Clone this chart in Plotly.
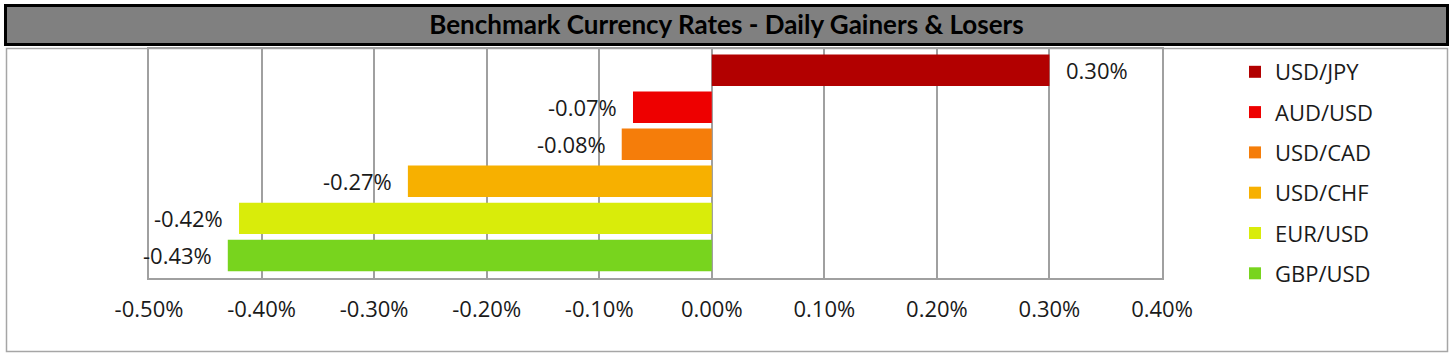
import plotly.graph_objects as go

# ---- data ----
pairs = ["USD/JPY", "AUD/USD", "USD/CAD", "USD/CHF", "EUR/USD", "GBP/USD"]
changes_pct = [0.30, -0.07, -0.08, -0.27, -0.42, -0.43]
bar_colors = ["#B20000", "#EE0000", "#F57D0A", "#F7B000", "#D9EC0A", "#78D41E"]
tick_vals_pct = [-0.50, -0.40, -0.30, -0.20, -0.10, 0.00, 0.10, 0.20, 0.30, 0.40]
tick_labels = ["-0.50%", "-0.40%", "-0.30%", "-0.20%", "-0.10%", "0.00%", "0.10%", "0.20%", "0.30%", "0.40%"]
title_text = "Benchmark Currency Rates - Daily Gainers & Losers"

W, H = 1453, 355
L, R, T, B = 149, 1162, 49, 278  # plot area in pixels

def px(x):
    return (x - L) / (R - L)

def py(y):
    return (B - y) / (B - T)

LABEL_FONT = dict(family="Open Sans", size=22, color="#1a1a1a")

fig = go.Figure()
for name, val, col in zip(pairs, changes_pct, bar_colors):
    fig.add_trace(go.Bar(
        x=[val], y=[name], orientation="h", name=name,
        marker=dict(color=col, line=dict(width=0)),
        width=0.85, legendgroup=name, hoverinfo="x+y",
    ))

annotations = []
for name, val in zip(pairs, changes_pct):
    annotations.append(dict(
        x=val, y=name, xref="x", yref="y", text=f"{val:.2f}%",
        showarrow=False, font=LABEL_FONT,
        xanchor="left" if val >= 0 else "right",
        xshift=15 if val >= 0 else -14,
    ))

shapes = [
    # chart frame
    dict(type="rect", xref="paper", yref="paper", x0=px(6.5), x1=px(1447.5), y0=py(351.5), y1=py(48.5),
         line=dict(color="#A6A6A6", width=1.5), fillcolor="rgba(0,0,0,0)", layer="below"),
    # title bar
    dict(type="rect", xref="paper", yref="paper", x0=px(5.5), x1=px(1447.5), y0=py(44.5), y1=py(5.5),
         line=dict(color="#000000", width=3), fillcolor="#808080", layer="above"),
]

fig.update_layout(
    width=W, height=H,
    margin=dict(l=L, r=W - R, t=T, b=H - B, pad=0),
    paper_bgcolor="white", plot_bgcolor="white",
    barmode="overlay",
    showlegend=True,
    legend=dict(
        xref="container", yref="container", x=1235 / W, y=1 - 51 / H,
        xanchor="left", yanchor="top", maxheight=400,
        font=dict(family="Open Sans", size=22, color="#1a1a1a"),
        traceorder="grouped", tracegroupgap=8.7, bgcolor="rgba(0,0,0,0)",
    ),
    title=dict(text=f"<b>{title_text}</b>", xref="container", yref="container",
               x=0.5, y=1 - 25 / H, xanchor="center", yanchor="middle",
               font=dict(family="Lato", size=26, color="#000000")),
    xaxis=dict(
        range=[-0.50, 0.40], tickvals=tick_vals_pct, ticktext=tick_labels,
        showgrid=True, gridcolor="#A0A0A0", gridwidth=1.5, zeroline=False,
        showline=True, linecolor="#A0A0A0", linewidth=1.5, mirror=True,
        ticks="", tickfont=LABEL_FONT, ticklabelstandoff=11,
        fixedrange=True,
    ),
    yaxis=dict(
        categoryorder="array", categoryarray=pairs,
        range=[5.61, -0.573], showticklabels=False, showgrid=False, zeroline=False,
        showline=True, linecolor="#A0A0A0", linewidth=1.5, mirror=True, ticks="",
        fixedrange=True,
    ),
    shapes=shapes,
    annotations=annotations,
)

fig.write_html("out.html", config={"displayModeBar": False},
               post_script="document.body.style.margin='0';")
